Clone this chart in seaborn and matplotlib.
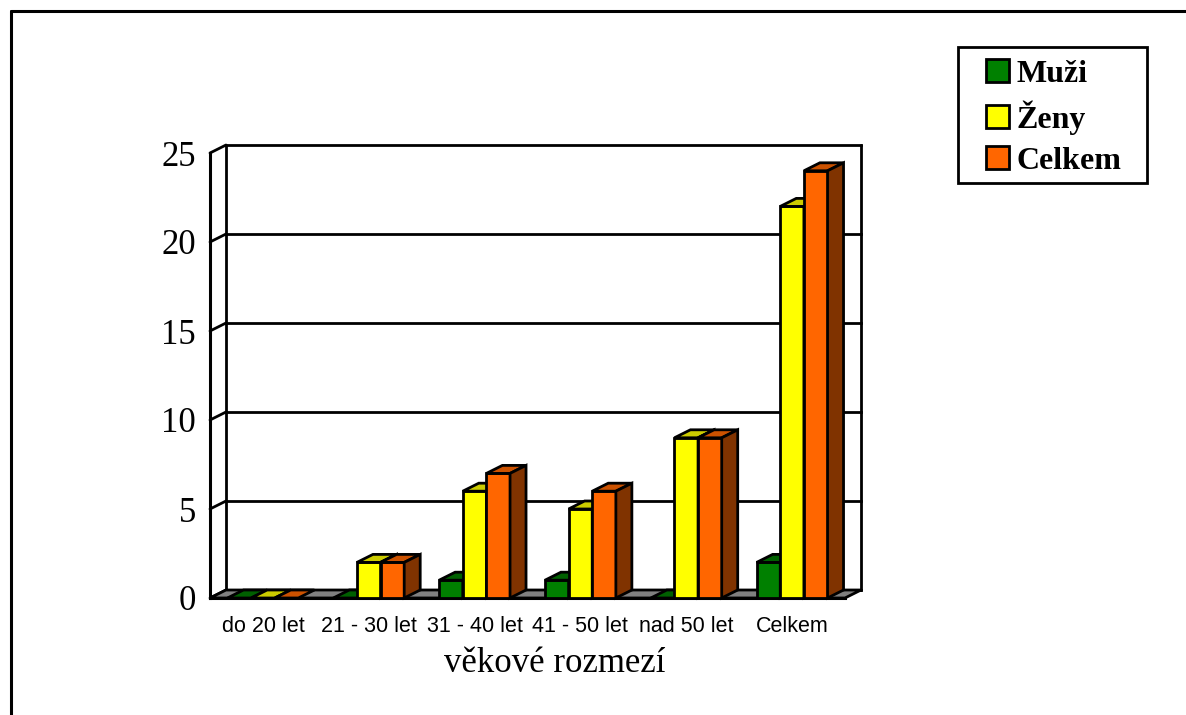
import matplotlib
matplotlib.use('Agg')
import matplotlib.pyplot as plt
import seaborn as sns
import pandas as pd
import numpy as np
from matplotlib.patches import Polygon, Patch, Rectangle
from matplotlib.lines import Line2D

# ---- data ----
categories = ['do 20 let', '21 - 30 let', '31 - 40 let', '41 - 50 let', 'nad 50 let', 'Celkem']
series = ['Muži', 'Ženy', 'Celkem']
muzi = [0, 0, 1, 1, 0, 2]
zeny = [0, 2, 6, 5, 9, 22]
celkem = [0, 2, 7, 6, 9, 24]
y_ticks = [0, 5, 10, 15, 20, 25]
x_label = 'věkové rozmezí'

# ---- styles ----
front_colors = ['#008000', '#FFFF00', '#FF6600']
top_colors = ['#006000', '#CCCC00', '#CC5200']
side_colors = ['#004000', '#999900', '#803300']

sns.set_theme(style='white')
plt.rcParams['font.family'] = ['Liberation Serif', 'DejaVu Serif']
plt.rcParams['text.color'] = 'black'
plt.rcParams['xtick.color'] = 'black'
plt.rcParams['ytick.color'] = 'black'

df = pd.DataFrame({
    'kat': categories * 3,
    'serie': np.repeat(series, len(categories)),
    'hodnota': muzi + zeny + celkem,
})

W, H = 1186, 715
fig = plt.figure(figsize=(W / 100, H / 100), dpi=100)
fig.patch.set_facecolor('white')
ax = fig.add_axes([210 / W, 1 - 598 / H, 635 / W, 445 / H])
ax.patch.set_visible(False)

sns.barplot(data=df, x='kat', y='hodnota', hue='serie', hue_order=series,
            order=categories, palette=front_colors, width=0.67, saturation=1,
            edgecolor='black', linewidth=2, ax=ax, legend=False, dodge=True)

x0, x1 = -0.5, len(categories) - 0.5
ymax = y_ticks[-1]
ax.set_xlim(x0, x1)
ax.set_ylim(0, ymax)

# depth offset (16 px right, 8 px up) in data units
dx = 16 / (635 / len(categories))
dy = 8 / (445 / ymax)

lw = 2
# back wall and side wall lines
for v in y_ticks:
    ax.plot([x0 + dx, x1 + dx], [v + dy, v + dy], color='black', lw=lw, zorder=1, clip_on=False,
            solid_capstyle='projecting')
    ax.plot([x0, x0 + dx], [v, v + dy], color='black', lw=lw, zorder=1, clip_on=False)
ax.plot([x0 + dx] * 2, [dy, ymax + dy], color='black', lw=lw, zorder=1, clip_on=False)
ax.plot([x1 + dx] * 2, [dy, ymax + dy], color='black', lw=lw, zorder=1, clip_on=False)

# floor
floor = Polygon([(x0, 0), (x1, 0), (x1 + dx, dy), (x0 + dx, dy)], closed=True,
                facecolor='#808080', edgecolor='black', lw=lw, zorder=2, clip_on=False)
ax.add_patch(floor)

# 3D faces for bars
for i, cont in enumerate(ax.containers):
    for j, p in enumerate(cont.patches):
        x, w, h = p.get_x(), p.get_width(), p.get_height()
        base = 3 + (j * 3 + i) * 0.01
        p.set_zorder(base)
        p.set_clip_on(False)
        top = Polygon([(x, h), (x + w, h), (x + w + dx, h + dy), (x + dx, h + dy)], closed=True,
                      facecolor=top_colors[i], edgecolor='black', lw=lw, zorder=base + 0.003,
                      clip_on=False, joinstyle='miter')
        ax.add_patch(top)
        if h > 0:
            side = Polygon([(x + w, 0), (x + w, h), (x + w + dx, h + dy), (x + w + dx, dy)], closed=True,
                           facecolor=side_colors[i], edgecolor='black', lw=lw, zorder=base + 0.004,
                           clip_on=False, joinstyle='miter')
            ax.add_patch(side)

# axes, ticks
for s in ['top', 'right']:
    ax.spines[s].set_visible(False)
for s in ['left', 'bottom']:
    ax.spines[s].set_color('black')
    ax.spines[s].set_linewidth(2.2)
    ax.spines[s].set_zorder(2.5)

ax.set_yticks(y_ticks)
ax.set_yticklabels([str(v) for v in y_ticks])
ax.tick_params(axis='y', length=7, width=2, direction='out', labelsize=25, pad=3, colors='black')
ax.set_xticks(range(len(categories)))
ax.set_xticklabels(categories, fontsize=15.5, family=['Liberation Sans', 'DejaVu Sans'])
ax.set_xticks(np.arange(x0, x1 + 0.01, 1), minor=True)
ax.tick_params(axis='x', which='major', length=0, pad=13, colors='black')
ax.tick_params(axis='x', which='minor', length=8, width=2, direction='out', colors='black')
ax.set_xlabel('')
ax.set_ylabel('')

fig.text(555 / W, 1 - 663 / H, x_label, ha='center', va='center', fontsize=25, color='black')

# legend frame (drawn separately) and entries
fig.add_artist(Rectangle((958 / W, 1 - 183 / H), (1147 - 958) / W, (183 - 47) / H,
                         transform=fig.transFigure, facecolor='white', edgecolor='black',
                         lw=2, zorder=5))
handles = [Patch(facecolor=c, edgecolor='black', lw=2) for c in front_colors]
leg = fig.legend(handles=handles, labels=series, loc='upper left',
                 bbox_to_anchor=(986 / W, 1 - 59 / H), frameon=False, labelcolor='black',
                 prop={'family': 'Liberation Serif', 'weight': 'bold', 'size': 23},
                 handlelength=0.72, handleheight=0.72, handletextpad=0.22,
                 borderpad=0, labelspacing=0.36, borderaxespad=0)
leg.set_zorder(6)

# outer border (left and top visible)
fig.add_artist(Line2D([10.5 / W, 10.5 / W], [1 - 11 / H, -0.1], color='black', lw=2.2,
                      transform=fig.transFigure))
fig.add_artist(Line2D([10.5 / W, 1.1], [1 - 11 / H, 1 - 11 / H], color='black', lw=2.2,
                      transform=fig.transFigure))

fig.savefig('out.png', dpi=100)
